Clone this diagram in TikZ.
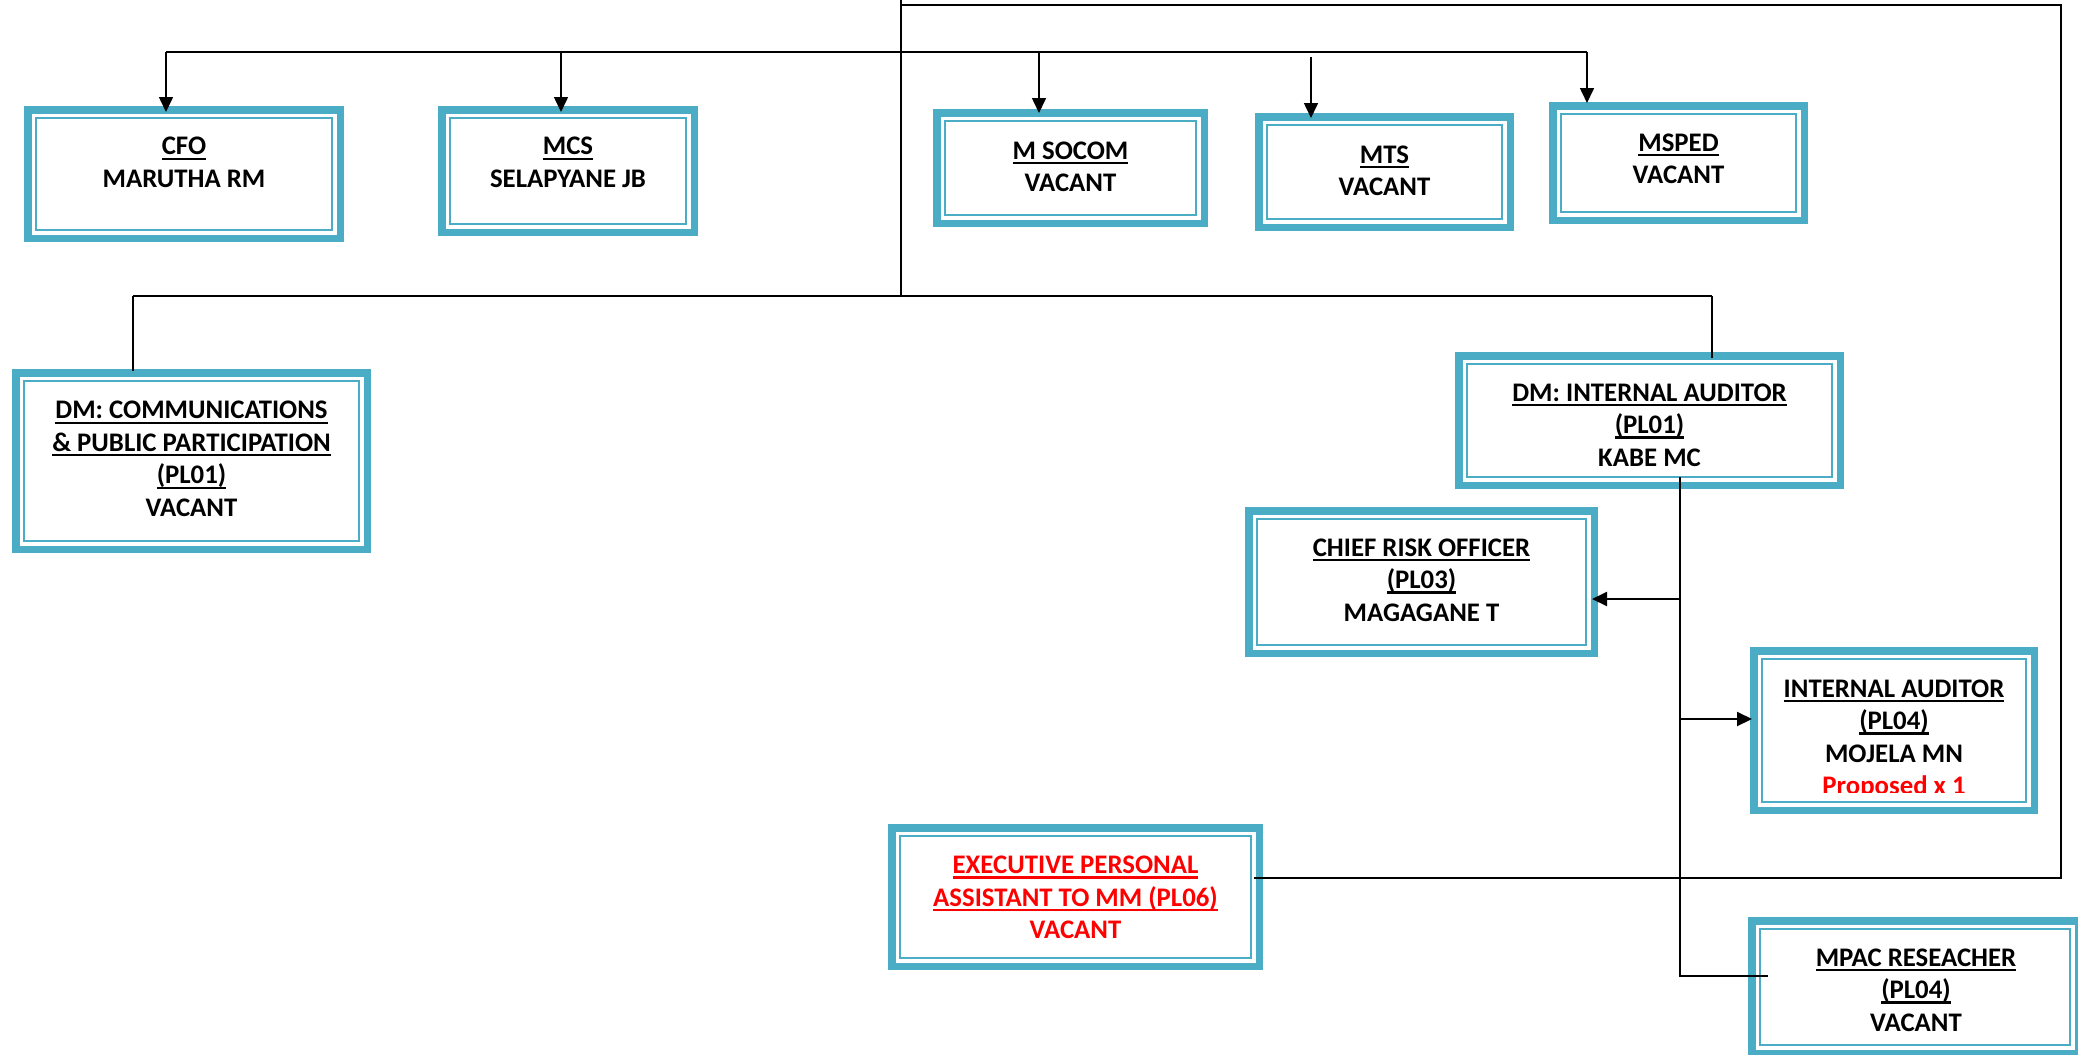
\documentclass[tikz,border=0pt]{standalone}
\usepackage{fontspec}
\setmainfont{Carlito}
\usetikzlibrary{arrows.meta}
\definecolor{teal5}{HTML}{4BACC6}
\definecolor{redtxt}{HTML}{FF0000}
\newsavebox\ulbox
\newcommand\ulx[1]{\leavevmode\sbox\ulbox{#1}\rlap{\rule[-2.5pt]{\wd\ulbox}{1.1pt}}\usebox\ulbox}
\newcommand\orgfont{\fontsize{13.4pt}{16.25pt}\selectfont\bfseries}
\newcommand\ostr{\rule[-4pt]{0pt}{15pt}}
\tikzset{
  orgbox/.style={draw=teal5, line width=3.75pt, fill=white, inner sep=0pt},
  innerline/.style={draw=teal5, line width=1.2pt},
  orgtext/.style={align=center, font=\orgfont, inner sep=0pt, text=black},
  conn/.style={draw=black, line width=1pt},
  arr/.style={conn, -{Triangle[length=7.5pt,width=7pt]}},
}
\newcommand\orgboxat[5]{%
  \pgfmathsetmacro\obw{(#4-#2)*0.5-3.75}%
  \pgfmathsetmacro\obh{(#5-#3)*0.5-3.75}%
  \node[orgbox, minimum width=\obw pt, minimum height=\obh pt] (#1) at ({(#2+#4)/2},{(#3+#5)/2}) {};%
  \draw[innerline] ([shift={(6pt,-6pt)}]#1.north west) rectangle ([shift={(-6pt,6pt)}]#1.south east);%
}
\begin{document}
\begin{tikzpicture}[x=0.5pt,y=-0.5pt]
\useasboundingbox (0,0) rectangle (2078,1055);
\fill[white] (0,0) rectangle (2078,1055);

% boxes
\orgboxat{cfo}{24}{106}{344}{242}
\orgboxat{mcs}{438}{106}{698}{236}
\orgboxat{socom}{933}{109}{1208}{227}
\orgboxat{mts}{1255}{113}{1514}{231}
\orgboxat{msped}{1549}{102}{1808}{224}
\orgboxat{dmcomm}{12}{369}{371}{553}
\orgboxat{dmia}{1455}{352}{1844}{489}
\orgboxat{cro}{1245}{507}{1598}{657}
\orgboxat{ia}{1750}{647}{2038}{814}
\orgboxat{epa}{888}{824}{1263}{970}
\orgboxat{mpac}{1748}{917}{2082}{1057}

% texts
\node[orgtext] (cfo-t) at (184,164) {\ulx{CFO}\ostr\\MARUTHA RM\ostr};
\node[orgtext] (mcs-t) at (568,164) {\ulx{MCS}\ostr\\SELAPYANE JB\ostr};
\node[orgtext] (socom-t) at (1070.5,168.5) {\ulx{M SOCOM}\ostr\\VACANT\ostr};
\node[orgtext] (mts-t) at (1384.5,172.5) {\ulx{MTS}\ostr\\VACANT\ostr};
\node[orgtext] (msped-t) at (1678.5,160.5) {\ulx{MSPED}\ostr\\VACANT\ostr};
\node[orgtext] (dmcomm-t) at (191.5,460.5) {\ulx{DM: COMMUNICATIONS}\ostr\\\ulx{\& PUBLIC PARTICIPATION}\\\ulx{(PL01)}\\VACANT\ostr};
\node[orgtext] (dmia-t) at (1649.5,426.5) {\ulx{DM: INTERNAL AUDITOR}\ostr\\\ulx{(PL01)}\\KABE MC\ostr};
\node[orgtext] (cro-t) at (1421.5,581.5) {\ulx{CHIEF RISK OFFICER}\ostr\\\ulx{(PL03)}\\MAGAGANE T\ostr};
\begin{scope}
  \clip (1750,647) rectangle (2038,792);
  \node[orgtext] (ia-t) at (1894,738.75) {\ulx{INTERNAL AUDITOR}\ostr\\\ulx{(PL04)}\\MOJELA MN\\\textcolor{redtxt}{Proposed x 1}\ostr};
\end{scope}
\node[orgtext, text=redtxt] (epa-t) at (1075.5,899) {\ulx{EXECUTIVE PERSONAL}\ostr\\\ulx{ASSISTANT TO MM (PL06)}\\VACANT\ostr};
\node[orgtext] (mpac-t) at (1916,991.5) {\ulx{MPAC RESEACHER}\ostr\\\ulx{(PL04)}\\VACANT\ostr};

% connectors
\coordinate (mmIn) at (901,-4);
\coordinate (hubA) at (901,296);
\coordinate (topL) at (901,5);
\coordinate (topR) at (2061,5);
\coordinate (sideR) at (2061,878);
\draw[conn] (mmIn) -- (hubA);
\draw[conn, shorten >=-4.5pt] (topL) -- (topR) -- (sideR) -- (sideR -| epa.east);

\coordinate (b1) at (166,52);
\coordinate (b2) at (561,52);
\coordinate (b3) at (1039,52);
\coordinate (b4) at (1311,57);
\coordinate (b5) at (1587,52);
\draw[conn] (b1) -- (b5);
\draw[arr, line width=0.8pt, shorten >=-3pt] (b1) -- (b1 |- cfo.north);
\draw[arr, line width=0.8pt, shorten >=-3pt] (b2) -- (b2 |- mcs.north);
\draw[arr, line width=0.8pt, shorten >=-2pt] (b3) -- (b3 |- socom.north);
\draw[arr, line width=0.8pt, shorten >=-2.5pt] (b4) -- (b4 |- mts.north);
\draw[arr, line width=0.8pt, shorten >=-0.5pt] (b5) -- (b5 |- msped.north);

\coordinate (c1) at (133,296);
\coordinate (c2) at (1712,296);
\draw[conn] (c1) -- (c2);
\draw[conn, shorten >=-1pt] (c1) -- (c1 |- dmcomm.north);
\draw[conn, shorten >=-3pt] (c2) -- (c2 |- dmia.north);

\coordinate (dx) at (1680,976);
\draw[conn, shorten <=-6pt, shorten >=-10pt] (dx |- dmia.south) -- (dx) -- (dx -| mpac.west);
\coordinate (dcro) at (1680,599);
\draw[arr, shorten >=-3pt] (dcro) -- (dcro -| cro.east);
\coordinate (dia) at (1680,719);
\draw[arr, shorten >=-1pt] (dia) -- (dia -| ia.west);
\end{tikzpicture}
\end{document}
